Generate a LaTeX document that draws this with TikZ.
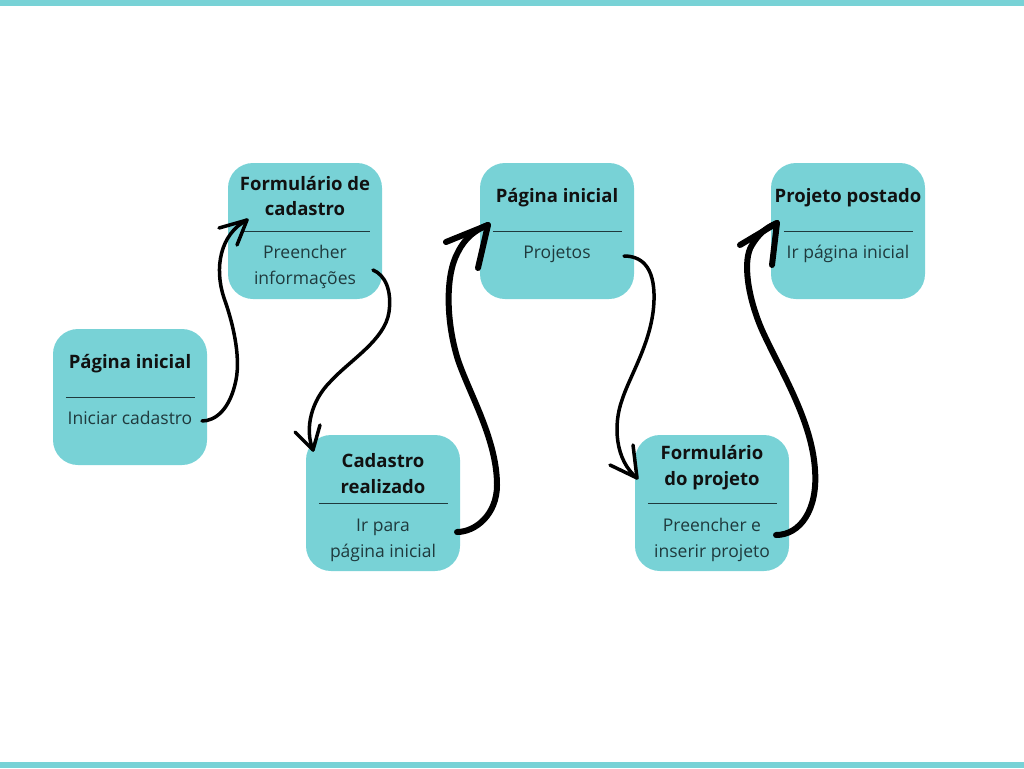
\documentclass[tikz,border=0pt]{standalone}
\usepackage{fontspec}
\setmainfont{Open Sans}
\definecolor{teal1}{HTML}{78D2D6}
\definecolor{titlec}{HTML}{111111}
\definecolor{bodyc}{HTML}{1F3A3D}
\begin{document}
\begin{tikzpicture}[x=1pt,y=-1pt,
  box/.style={fill=teal1, rounded corners=25pt, minimum width=154pt, minimum height=136pt, inner sep=0pt},
  ttl/.style={anchor=base, font=\fontsize{18.5}{25}\selectfont\bfseries, text=titlec, inner sep=0pt},
  bdy/.style={anchor=base, font=\fontsize{17.5}{25}\selectfont, text=bodyc, inner sep=0pt},
  rulel/.style={draw=bodyc, line width=1pt},
  arr/.style={draw=black, line width=3.5pt, line cap=round, line join=round},
  arrthick/.style={arr, line width=6pt}]
\useasboundingbox (0,0) rectangle (1024,768);
\fill[teal1] (0,0) rectangle (1024,6);
\fill[teal1] (0,762) rectangle (1024,768);

% boxes
\node[box] (b1) at (130,397) {};
\node[box] (b2) at (305,231) {};
\node[box] (b3) at (383,503) {};
\node[box] (b4) at (557,231) {};
\node[box] (b5) at (712,503) {};
\node[box] (b6) at (848,231) {};

% separators
\foreach \b in {b1,b2,b3,b4,b5,b6}{
  \draw[rulel] ([xshift=13pt]\b.west) -- ([xshift=-12pt]\b.east);
}

% texts
\node[ttl] (t1a) at (130,368) {Página inicial};
\node[bdy] (d1a) at (130,424) {Iniciar cadastro};

\node[ttl] (t2a) at (305,190) {Formulário de};
\node[ttl] (t2b) at (305,215) {cadastro};
\node[bdy] (d2a) at (305,258) {Preencher};
\node[bdy] (d2b) at (305,284) {informações};

\node[ttl] (t3a) at (383,467) {Cadastro};
\node[ttl] (t3b) at (383,493) {realizado};
\node[bdy] (d3a) at (383,531) {Ir para};
\node[bdy] (d3b) at (383,557) {página inicial};

\node[ttl] (t4a) at (557,202) {Página inicial};
\node[bdy] (d4a) at (557,258) {Projetos};

\node[ttl] (t5a) at (712,459) {Formulário};
\node[ttl] (t5b) at (712,485) {do projeto};
\node[bdy] (d5a) at (712,531) {Preencher e};
\node[bdy] (d5b) at (712,557) {inserir projeto};

\node[ttl] (t6a) at (848,202) {Projeto postado};
\node[bdy] (d6a) at (848,258) {Ir página inicial};

% arrow endpoints
\coordinate (s1) at (202,421); \coordinate (e1) at (247,220);
\coordinate (s2) at (373,270); \coordinate (e2) at (313,450);
\coordinate (s3) at (457,532); \coordinate (e3) at (488,225);
\coordinate (s4) at (624,256); \coordinate (e4) at (637,478);
\coordinate (s5) at (776,535); \coordinate (e5) at (777,223);

% arrow 1
\draw[arr] (s1) .. controls (215,421) and (230,410) .. (236,380)
  .. controls (241,355) and (232,320) .. (224,298)
  .. controls (214,268) and (220,234) .. (e1);
\draw[arr] (219,228) -- (e1) -- (237,245);

% arrow 2
\draw[arr] (s2) .. controls (385,275) and (392,290) .. (389,312)
  .. controls (385,340) and (350,360) .. (330,382)
  .. controls (312,400) and (304,428) .. (e2);
\draw[arr] (295,432) -- (e2) -- (320,425);

% arrow 3
\draw[arrthick] (s3) .. controls (475,532) and (497,515) .. (497,485)
  .. controls (497,440) and (470,395) .. (458,360)
  .. controls (446,322) and (445,275) .. (458,252)
  .. controls (465,238) and (475,230) .. (e3);
\draw[arrthick] (446,242) -- (e3) -- (478,268);

% arrow 4
\draw[arr] (s4) .. controls (640,256) and (655,265) .. (654,300)
  .. controls (653,340) and (630,375) .. (622,400)
  .. controls (613,425) and (615,460) .. (e4);
\draw[arr] (610,465) -- (e4) -- (633,445);

% arrow 5
\draw[arrthick] (s5) .. controls (800,535) and (818,510) .. (815,470)
  .. controls (812,420) and (780,370) .. (762,330)
  .. controls (748,298) and (742,260) .. (752,245)
  .. controls (758,235) and (765,228) .. (e5);
\draw[arrthick] (740,245) -- (e5) -- (772,265);
\end{tikzpicture}
\end{document}
